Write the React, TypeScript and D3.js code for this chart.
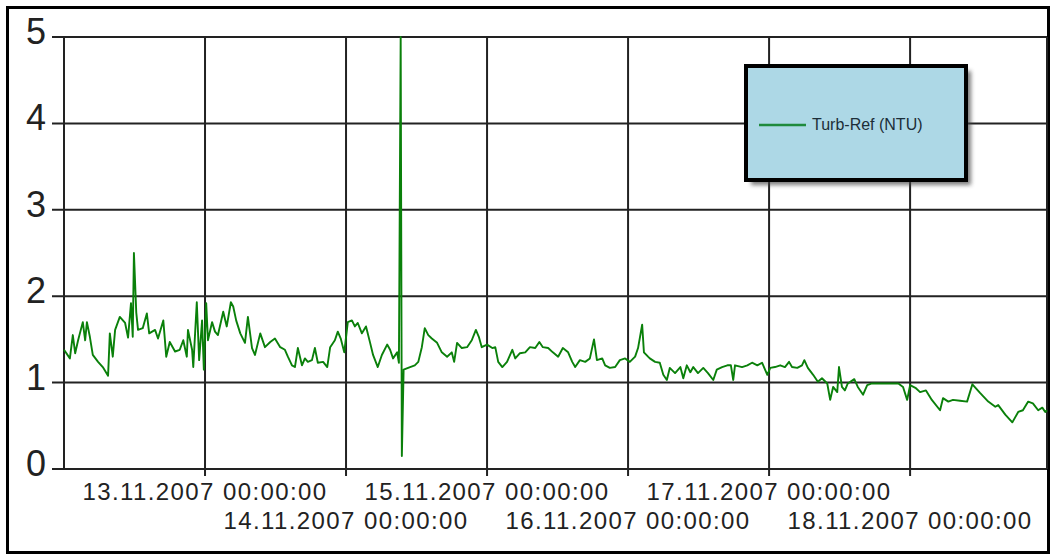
import React, { useEffect, useRef } from 'react';
import * as d3 from 'd3';

// Series start: 12.11.2007 00:00:00, samples are [hours since start, NTU]
const startTime = new Date(2007, 10, 12, 0, 0, 0);
const seriesName = 'Turb-Ref (NTU)';

const turbRefSamples: [number, number][] = [
  [0, 1.38], [1.0, 1.28], [1.5, 1.55], [1.9, 1.34], [2.4, 1.49], [3.2, 1.70], [3.6, 1.49], [3.9, 1.70],
  [4.4, 1.53], [4.9, 1.32], [5.8, 1.24], [6.6, 1.18], [7.5, 1.08], [7.8, 1.57], [8.3, 1.30], [8.7, 1.61],
  [9.5, 1.76], [10.4, 1.69], [10.9, 1.52], [11.4, 1.92], [11.7, 1.53], [11.9, 2.50], [12.3, 1.81], [12.6, 1.61],
  [13.4, 1.63], [14.1, 1.80], [14.5, 1.57], [15.5, 1.61], [16.0, 1.51], [16.9, 1.72], [17.4, 1.30], [18.0, 1.47],
  [18.9, 1.36], [19.7, 1.38], [20.3, 1.49], [20.9, 1.30], [21.1, 1.61], [21.8, 1.38], [22.0, 1.18], [22.6, 1.93],
  [23.0, 1.26], [23.5, 1.72], [23.8, 1.15], [24.2, 1.92], [24.5, 1.49], [25.2, 1.70], [25.7, 1.59], [26.2, 1.55],
  [27.1, 1.82], [27.7, 1.65], [28.4, 1.93], [28.8, 1.88], [29.3, 1.72], [30.0, 1.57], [30.8, 1.46], [31.3, 1.76],
  [32.0, 1.40], [32.5, 1.32], [33.4, 1.57], [34.2, 1.41], [35.1, 1.47], [35.9, 1.51], [36.8, 1.41], [37.6, 1.38],
  [38.1, 1.30], [38.8, 1.20], [39.3, 1.18], [39.8, 1.40], [40.5, 1.20], [41.0, 1.28], [41.5, 1.24], [42.2, 1.26],
  [42.7, 1.40], [43.2, 1.23], [44.1, 1.24], [44.8, 1.18], [45.3, 1.41], [46.1, 1.49], [46.6, 1.59], [47.1, 1.51],
  [47.7, 1.35], [48.3, 1.70], [49.0, 1.72], [49.5, 1.65], [50.0, 1.69], [50.7, 1.57], [51.4, 1.65], [52.1, 1.46],
  [52.6, 1.32], [53.4, 1.18], [54.1, 1.32], [55.0, 1.44], [55.5, 1.38], [56.0, 1.28], [56.7, 1.35], [57.0, 1.23],
  [57.3, 5.0], [57.5, 0.15], [57.8, 1.15], [58.9, 1.18], [59.7, 1.20], [60.3, 1.24], [60.9, 1.41], [61.4, 1.63],
  [62.0, 1.55], [62.6, 1.51], [63.5, 1.46], [64.3, 1.35], [65.2, 1.30], [66.0, 1.35], [66.4, 1.24], [66.9, 1.46],
  [67.7, 1.40], [68.6, 1.41], [69.4, 1.49], [70.1, 1.61], [70.6, 1.53], [71.1, 1.41], [72.0, 1.44], [72.9, 1.40],
  [73.4, 1.41], [73.9, 1.24], [74.6, 1.18], [75.4, 1.24], [76.3, 1.38], [76.8, 1.28], [77.6, 1.34], [78.5, 1.35],
  [79.3, 1.41], [80.2, 1.40], [80.9, 1.47], [81.5, 1.41], [82.4, 1.40], [83.2, 1.35], [84.1, 1.30], [84.9, 1.40],
  [85.8, 1.35], [86.5, 1.24], [87.0, 1.18], [87.8, 1.26], [88.7, 1.24], [89.5, 1.28], [90.2, 1.50], [90.7, 1.26],
  [91.6, 1.28], [92.1, 1.20], [92.9, 1.17], [93.8, 1.18], [94.6, 1.26], [95.5, 1.28], [96.3, 1.24], [97.2, 1.30],
  [97.7, 1.40], [98.4, 1.67], [98.7, 1.35], [99.4, 1.30], [99.7, 1.28], [100.6, 1.24], [101.4, 1.23], [102.0, 1.09],
  [102.6, 1.03], [103.1, 1.17], [104.0, 1.11], [104.9, 1.18], [105.4, 1.05], [106.0, 1.20], [106.6, 1.12], [107.1, 1.18],
  [107.9, 1.11], [108.8, 1.17], [109.6, 1.11], [110.5, 1.03], [111.1, 1.15], [112.0, 1.18], [112.9, 1.20], [113.5, 1.20],
  [113.9, 1.03], [114.2, 1.20], [115.4, 1.18], [116.3, 1.20], [117.1, 1.23], [118.0, 1.20], [118.8, 1.23], [119.7, 1.09],
  [120.2, 1.17], [121.0, 1.18], [121.9, 1.20], [122.7, 1.18], [123.4, 1.24], [123.9, 1.18], [124.8, 1.17], [125.6, 1.20],
  [126.0, 1.26], [126.6, 1.17], [127.5, 1.09], [128.3, 1.01], [129.0, 1.05], [129.9, 0.99], [130.4, 0.80], [130.9, 0.95],
  [131.6, 0.89], [131.9, 1.18], [132.4, 0.95], [132.9, 0.91], [133.4, 0.99], [134.5, 1.04], [135.1, 0.95], [136.0, 0.86],
  [136.7, 0.97], [137.5, 0.99], [138.4, 0.99], [140.1, 0.99], [142.0, 0.99], [142.8, 0.95], [143.5, 0.80], [144.0, 0.97],
  [144.9, 0.94], [145.7, 0.89], [146.7, 0.91], [147.7, 0.80], [149.1, 0.68], [149.6, 0.82], [150.5, 0.78], [151.3, 0.80],
  [152.5, 0.79], [153.7, 0.78], [154.6, 0.98], [155.9, 0.88], [157.3, 0.78], [158.5, 0.72], [159.0, 0.74], [160.2, 0.63],
  [161.4, 0.54], [162.4, 0.66], [163.2, 0.68], [164.1, 0.78], [164.9, 0.76], [165.8, 0.68], [166.5, 0.71], [167.0, 0.66],
  [167.3, 0.68],
];

const yTicks = [0, 1, 2, 3, 4, 5];
const xTickDays = [13, 14, 15, 16, 17, 18];

const App = () => {
  const svgRef = useRef<SVGSVGElement>(null);

  useEffect(() => {
    const svg = d3.select(svgRef.current);
    svg.selectAll('*').remove();

    const width = 1055;
    const height = 558;
    const plot = { left: 64, right: 1047, top: 37, bottom: 469 };
    const gridColor = '#222';
    const font = '"Liberation Sans", Arial, sans-serif';

    const data = turbRefSamples.map(([h, v]) => ({
      t: d3.timeMinute.offset(startTime, Math.round(h * 60)),
      v,
    }));

    const x = d3.scaleTime()
      .domain(d3.extent(data, d => d.t) as [Date, Date])
      .range([plot.left, plot.right]);

    const y = d3.scaleLinear()
      .domain([0, 5])
      .range([plot.bottom, plot.top]);

    svg.append('rect')
      .attr('width', width).attr('height', height)
      .attr('fill', '#fff');

    // outer frame
    svg.append('rect')
      .attr('x', 7.5).attr('y', 7.5)
      .attr('width', 1041).attr('height', 545)
      .attr('fill', 'none')
      .attr('stroke', '#000')
      .attr('stroke-width', 3);

    // horizontal grid + y labels
    yTicks.forEach(t => {
      svg.append('line')
        .attr('x1', plot.left - 12).attr('x2', plot.right)
        .attr('y1', y(t)).attr('y2', y(t))
        .attr('stroke', gridColor).attr('stroke-width', 2);
      svg.append('text')
        .attr('x', 46).attr('y', y(t) + 7)
        .attr('text-anchor', 'end')
        .attr('font-family', font)
        .attr('font-size', 36)
        .attr('fill', '#222')
        .text(t);
    });

    // vertical grid + date labels in two rows
    const fmt = d3.timeFormat('%d.%m.%Y %H:%M:%S');
    xTickDays.forEach((day, i) => {
      const d = new Date(2007, 10, day, 0, 0, 0);
      svg.append('line')
        .attr('x1', x(d)).attr('x2', x(d))
        .attr('y1', plot.top).attr('y2', plot.bottom + 7)
        .attr('stroke', gridColor).attr('stroke-width', 2);
      svg.append('text')
        .attr('x', x(d))
        .attr('y', i % 2 === 0 ? 500 : 529)
        .attr('text-anchor', 'middle')
        .attr('font-family', font)
        .attr('font-size', 24)
        .attr('letter-spacing', 1.4)
        .attr('fill', '#222')
        .text(fmt(d));
    });

    // left / right borders of plot
    [plot.left, plot.right].forEach(px => {
      svg.append('line')
        .attr('x1', px).attr('x2', px)
        .attr('y1', plot.top).attr('y2', plot.bottom)
        .attr('stroke', gridColor).attr('stroke-width', 2);
    });

    const line = d3.line<{ t: Date; v: number }>()
      .x(d => x(d.t))
      .y(d => y(d.v));

    svg.append('path')
      .datum(data)
      .attr('d', line)
      .attr('fill', 'none')
      .attr('stroke', '#0a800a')
      .attr('stroke-width', 1.9)
      .attr('stroke-linejoin', 'round');

    // legend with drop shadow
    const defs = svg.append('defs');
    defs.append('filter')
      .attr('id', 'legendShadow')
      .attr('x', '-10%').attr('y', '-10%')
      .attr('width', '130%').attr('height', '130%')
      .append('feGaussianBlur')
      .attr('stdDeviation', 2);

    const lg = { x: 746, y: 66, w: 220, h: 114 };
    svg.append('rect')
      .attr('x', lg.x + 5).attr('y', lg.y + 5)
      .attr('width', lg.w).attr('height', lg.h)
      .attr('fill', '#444').attr('opacity', 0.7)
      .attr('filter', 'url(#legendShadow)');
    svg.append('rect')
      .attr('x', lg.x).attr('y', lg.y)
      .attr('width', lg.w).attr('height', lg.h)
      .attr('fill', '#add8e6')
      .attr('stroke', '#000')
      .attr('stroke-width', 4);
    svg.append('line')
      .attr('x1', 759).attr('x2', 806)
      .attr('y1', 125).attr('y2', 125)
      .attr('stroke', '#1f8a3c')
      .attr('stroke-width', 2.5);
    svg.append('text')
      .attr('x', 812).attr('y', 130)
      .attr('font-family', font)
      .attr('font-size', 16)
      .attr('fill', '#1c2e38')
      .text(seriesName);
  }, []);

  return (
    <svg
      ref={svgRef}
      width={1055}
      height={558}
      style={{ position: 'absolute', left: 0, top: 0 }}
    />
  );
};

export default App;
